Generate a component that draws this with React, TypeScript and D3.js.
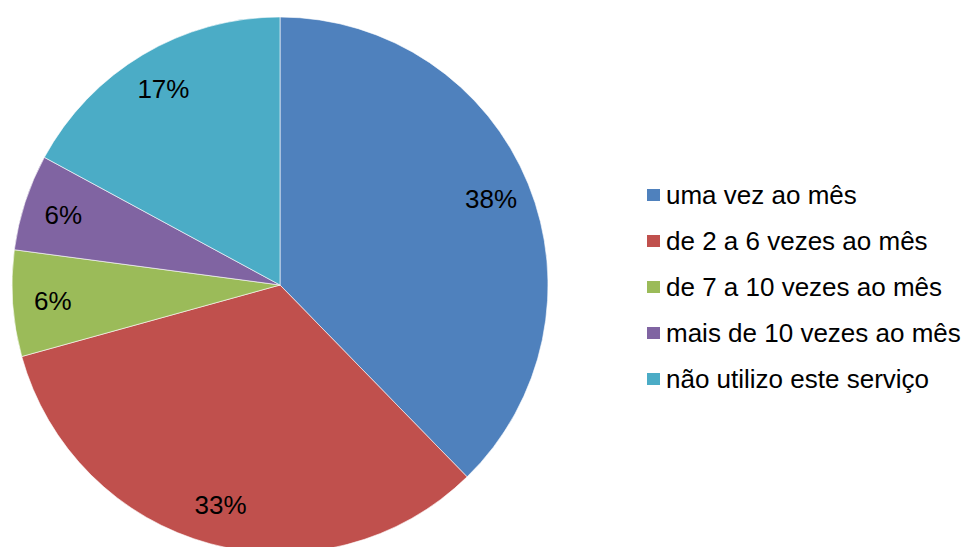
import React from "react";
import * as d3 from "d3";

const categories = [
  "uma vez ao mês",
  "de 2 a 6 vezes ao mês",
  "de 7 a 10 vezes ao mês",
  "mais de 10 vezes ao mês",
  "não utilizo este serviço",
];
const values = [37.7, 33.0, 6.4, 5.8, 17.1];
const labels = ["38%", "33%", "6%", "6%", "17%"];
const colors = ["#4F81BD", "#C0504D", "#9BBB59", "#8064A2", "#4BACC6"];

const W = 970;
const H = 547;
const CX = 280;
const CY = 285;
const R = 268;

const App = () => {
  const pie = d3
    .pie<number>()
    .sort(null)
    .value((d) => d);
  const arcs = pie(values);
  const arc = d3.arc<d3.PieArcDatum<number>>().innerRadius(0).outerRadius(R);
  const labelArc = d3
    .arc<d3.PieArcDatum<number>>()
    .innerRadius(R * 0.85)
    .outerRadius(R * 0.85);

  const legendY = d3
    .scalePoint<string>()
    .domain(categories)
    .range([195, 379]);

  return (
    <svg
      width={W}
      height={H}
      style={{ position: "absolute", left: 0, top: 0, fontFamily: "'Liberation Sans', Arial, sans-serif" }}
    >
      <rect width={W} height={H} fill="#fff" />
      <g transform={`translate(${CX},${CY})`}>
        {arcs.map((a, i) => (
          <path key={i} d={arc(a) || ""} fill={colors[i]} stroke="#fff" strokeWidth={0.6} />
        ))}
        {arcs.map((a, i) => {
          const [x, y] = labelArc.centroid(a);
          return (
            <text key={i} x={x} y={y} dy="0.35em" textAnchor="middle" fontSize={26} fill="#000">
              {labels[i]}
            </text>
          );
        })}
      </g>
      <g>
        {categories.map((c, i) => {
          const y = legendY(c) as number;
          return (
            <g key={c}>
              <rect x={647} y={y - 6} width={13} height={12} fill={colors[i]} />
              <text x={666} y={y} dy="0.35em" fontSize={26} fill="#000">
                {c}
              </text>
            </g>
          );
        })}
      </g>
    </svg>
  );
};

export default App;
